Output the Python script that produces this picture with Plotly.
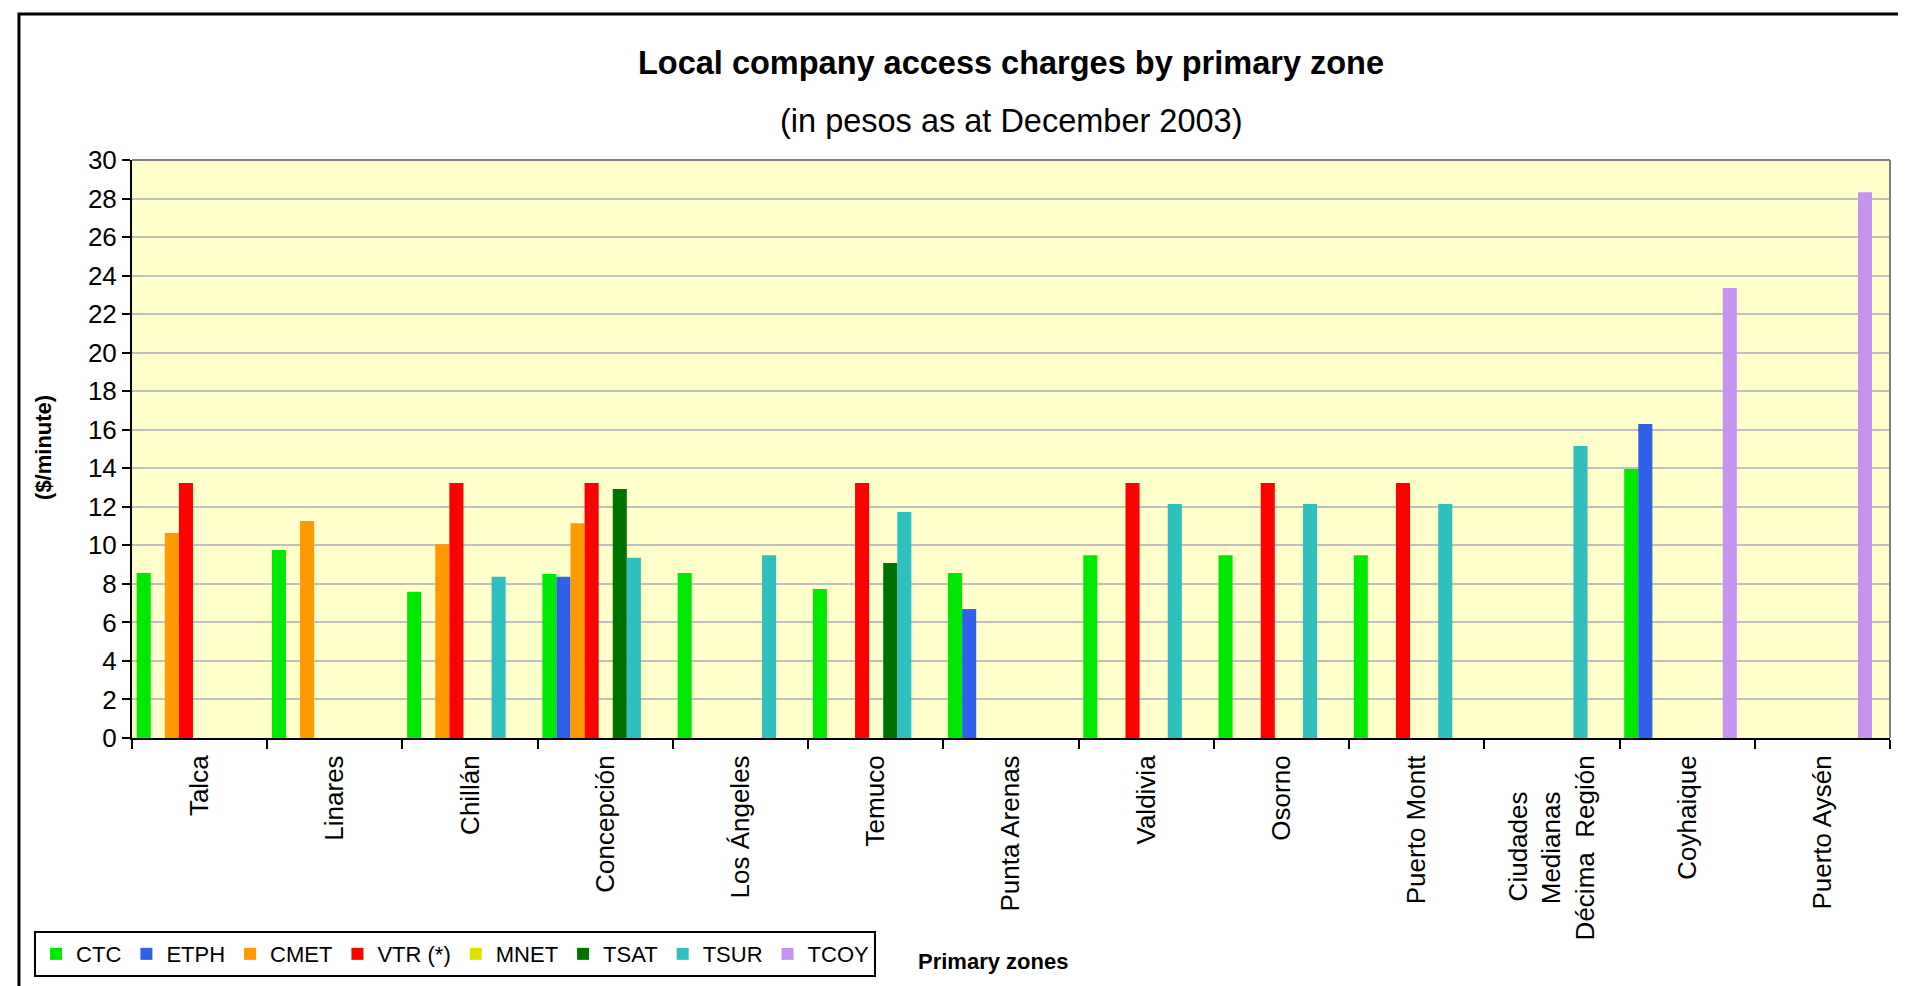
import plotly.graph_objects as go

NB = "\u00a0"
zones = ["Talca", "Linares", "Chillán", "Concepción", "Los Ángeles", "Temuco",
         "Punta Arenas", "Valdivia", "Osorno", "Puerto Montt",
         "Ciudades" + NB * 5 + "<br>Medianas" + NB * 5 + "<br>Décima  Región",
         "Coyhaique", "Puerto Aysén"]

series_names = ["CTC", "ETPH", "CMET", "VTR (*)", "MNET", "TSAT", "TSUR", "TCOY"]

ctc  = [8.57, 9.76, 7.59, 8.51, 8.57, 7.73, 8.57, 9.49, 9.49, 9.49, None, 13.96, None]
etph = [None, None, None, 8.37, None, None, 6.70, None, None, None, None, 16.30, None]
cmet = [10.64, 11.26, 10.05, 11.15, None, None, None, None, None, None, None, None, None]
vtr  = [13.23, None, 13.23, 13.23, None, 13.23, None, 13.23, 13.23, 13.23, None, None, None]
mnet = [None] * 13
tsat = [None, None, None, 12.92, None, 9.08, None, None, None, None, None, None, None]
tsur = [None, None, 8.37, 9.35, 9.49, 11.73, None, 12.14, 12.14, 12.14, 15.15, None, None]
tcoy = [None, None, None, None, None, None, None, None, None, None, None, 23.35, 28.32]

series_values = [ctc, etph, cmet, vtr, mnet, tsat, tsur, tcoy]
colors = ["#00E800", "#3060E8", "#FF9900", "#FF0000", "#E0E000", "#007000", "#30BFBF", "#C693F0"]

y_ticks = list(range(0, 31, 2))

SANS = "Liberation Sans, Arial, sans-serif"

bar_w = 0.1041
start = -0.5 + 0.0345

fig = go.Figure()
for i, (name, vals, col) in enumerate(zip(series_names, series_values, colors)):
    fig.add_trace(go.Bar(
        name=name, x=zones, y=vals,
        width=bar_w, offset=start + i * bar_w,
        marker=dict(color=col, line=dict(width=0)),
    ))

fig.update_layout(
    width=1906, height=986,
    margin=dict(l=124, r=24, t=152, b=256),
    paper_bgcolor="white",
    plot_bgcolor="#FFFFCC",
    barmode="overlay",
    showlegend=True,
    legend=dict(
        orientation="h", x=-0.0557, y=-0.334, xanchor="left", yanchor="top",
        font=dict(family=SANS, size=22, color="black"),
        bordercolor="black", borderwidth=2, bgcolor="white",
        itemwidth=30,
    ),
    xaxis=dict(
        type="category", range=[-0.5, 12.5],
        tickson="boundaries", ticks="outside", ticklen=9, tickwidth=1.5, tickcolor="black",
        tickangle=-90, showgrid=False, ticklabelstandoff=5,
        showline=True, linecolor="black", linewidth=2,
        tickfont=dict(family=SANS, size=26, color="black"),
    ),
    yaxis=dict(
        range=[0, 30], tickvals=y_ticks, ticks="outside", ticklen=8, tickwidth=1.5,
        tickcolor="black", showline=True, linecolor="black", linewidth=2,
        showgrid=True, gridcolor="#C0C0C0", gridwidth=1.5, zeroline=False,
        tickfont=dict(family=SANS, size=26, color="black"),
    ),
    annotations=[
        dict(text="<b>Local company access charges by primary zone</b>", x=0.5, y=1.168,
             xref="paper", yref="paper", showarrow=False, xanchor="center", yanchor="middle",
             font=dict(family=SANS, size=32.5, color="black")),
        dict(text="(in pesos as at December 2003)", x=0.5, y=1.0675,
             xref="paper", yref="paper", showarrow=False, xanchor="center", yanchor="middle",
             font=dict(family=SANS, size=32.5, color="black")),
        dict(text="<b>($/minute)</b>", x=-0.05, y=0.502, textangle=-90,
             xref="paper", yref="paper", showarrow=False, xanchor="center", yanchor="middle",
             font=dict(family=SANS, size=22, color="black")),
        dict(text="<b>Primary zones</b>", x=0.49, y=-0.3875,
             xref="paper", yref="paper", showarrow=False, xanchor="center", yanchor="middle",
             font=dict(family=SANS, size=22, color="black")),
    ],
    shapes=[
        dict(type="line", xref="paper", yref="paper", x0=0, x1=1, y0=1, y1=1,
             line=dict(color="#808080", width=2)),
        dict(type="line", xref="paper", yref="paper", x0=1, x1=1, y0=0, y1=1,
             line=dict(color="#808080", width=2)),
        dict(type="rect", xref="paper", yref="paper", x0=-0.0643, x1=1.0125, y0=1.2526, y1=-0.4585,
             line=dict(color="black", width=3), fillcolor="rgba(0,0,0,0)"),
    ],
)

fig.write_html("out.html")
